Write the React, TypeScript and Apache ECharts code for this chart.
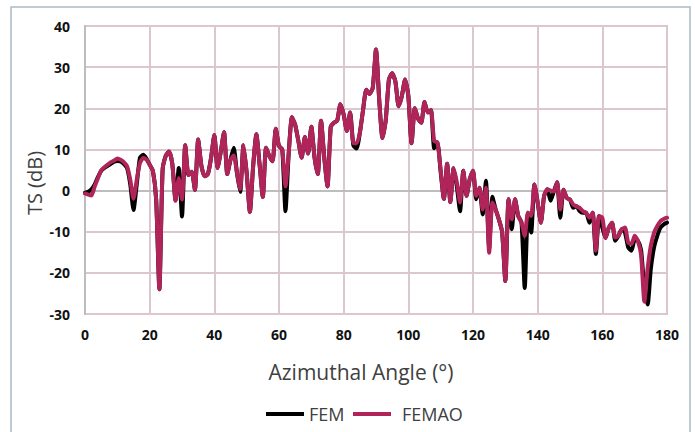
import React, { useEffect, useRef } from "react";
import * as echarts from "echarts";

const angles = [
  0, 1, 2, 3, 4, 5, 6, 7, 8, 9, 10, 11, 12, 13, 14, 15, 16, 17, 18, 19, 20,
  21, 22, 23, 24, 25, 26, 27, 28, 29, 30, 31, 32, 33, 34, 35, 36, 37, 38, 39, 40,
  41, 42, 43, 44, 45, 46, 47, 48, 49, 50, 51, 52, 53, 54, 55, 56, 57, 58, 59, 60,
  61, 62, 63, 64, 65, 66, 67, 68, 69, 70, 71, 72, 73, 74, 75, 76, 77, 78, 79, 80,
  81, 82, 83, 84, 85, 86, 87, 88, 89, 90, 91, 92, 93, 94, 95, 96, 97, 98, 99, 100,
  101, 102, 103, 104, 105, 106, 107, 108, 109, 110, 111, 112, 113, 114, 115, 116, 117, 118, 119, 120,
  121, 122, 123, 124, 125, 126, 127, 128, 129, 130, 131, 132, 133, 134, 135, 136, 137, 138, 139, 140,
  141, 142, 143, 144, 145, 146, 147, 148, 149, 150, 151, 152, 153, 154, 155, 156, 157, 158, 159, 160,
  161, 162, 163, 164, 165, 166, 167, 168, 169, 170, 171, 172, 173, 174, 175, 176, 177, 178, 179, 180,
];

const femao = [
  -0.7, -1.0, -1.2, 1.0, 3.0, 4.9, 5.7, 6.3, 6.9, 7.3, 7.8, 7.5, 6.9, 5.9, 2.6, -2.0, 2.6, 6.7, 7.9, 7.5, 6.3,
  4.8, -2.0, -24.0, 5.0, 8.5, 9.5, 6.5, -2.5, 3.0, -2.2, 11.0, 3.8, 4.6, 0.2, 12.4, 6.0, 3.5, 4.0, 8.0, 13.5,
  5.5, 9.5, 14.2, 4.0, 7.5, 8.5, 4.3, 0.4, 11.0, 4.3, -5.2, 5.9, 13.7, 6.3, -1.5, 10.4, 8.4, 7.1, 15.0, 10.8,
  10.0, 1.0, 9.0, 17.8, 16.0, 12.0, 8.0, 13.0, 9.0, 15.5, 8.0, 4.0, 17.0, 8.0, 1.0, 15.5, 16.5, 17.0, 21.0, 18.5,
  14.5, 19.0, 11.5, 11.5, 14.0, 19.6, 24.5, 23.5, 25.0, 34.3, 22.0, 12.8, 17.0, 27.0, 28.5, 26.5, 20.5, 23.0, 27.0, 23.0,
  11.5, 20.0, 17.5, 16.5, 21.5, 19.0, 19.5, 12.0, 11.7, 5.0, -2.0, 6.5, -2.8, 5.4, 2.0, -2.9, 4.8, -1.3, 2.8, 4.8,
  -1.3, 0.7, -4.6, 0.7, -15.1, -2.9, -4.6, -7.0, -10.0, -22.0, -2.1, -7.0, -2.1, -6.2, -7.8, -11.0, -5.4, -6.2, 1.5, -2.9,
  -7.8, -1.3, 0.3, 0.0, -0.2, 2.0, -4.6, 0.2, -1.8, -2.2, -3.4, -3.8, -4.2, -5.0, -5.4, -6.6, -5.4, -14.6, -6.2, -6.6,
  -11.5, -9.0, -7.8, -11.4, -11.0, -9.4, -9.0, -12.6, -13.0, -11.0, -12.2, -15.8, -27.0, -19.0, -13.4, -10.2, -8.6, -7.4, -6.9, -6.6,
];

const fem = [
  -0.5, -0.3, 0.3, 1.5, 3.3, 4.8, 5.5, 6.0, 6.5, 7.0, 7.2, 7.1, 6.5, 5.5, 1.5, -4.7, 1.5, 8.0, 8.7, 7.8, 6.3,
  4.8, -2.0, -24.0, 5.0, 8.5, 9.5, 6.5, -2.3, 5.5, -6.3, 11.0, 3.8, 4.6, 0.2, 12.4, 6.0, 3.5, 4.0, 8.0, 13.5,
  5.5, 9.5, 14.2, 4.0, 7.5, 10.4, 4.3, -0.3, 11.0, 4.3, -5.2, 5.9, 13.7, 6.3, -1.5, 10.4, 8.4, 7.1, 15.0, 10.8,
  10.0, -5.0, 9.0, 17.8, 16.0, 12.0, 8.0, 13.0, 9.0, 15.5, 8.0, 4.0, 17.0, 8.0, 1.0, 15.5, 16.5, 17.0, 21.0, 18.5,
  14.5, 19.0, 11.0, 10.2, 14.0, 19.6, 24.5, 23.5, 25.0, 34.3, 22.0, 12.8, 17.0, 27.0, 28.5, 26.5, 20.5, 23.0, 27.0, 23.0,
  11.5, 20.0, 17.5, 16.5, 21.5, 19.0, 19.5, 10.3, 11.7, 4.5, -2.0, 6.5, -2.8, 5.4, 1.0, -5.0, 4.8, -1.3, 2.8, 4.8,
  -2.1, 0.7, -5.8, 2.4, -14.0, -1.5, -4.6, -7.0, -10.0, -22.0, -2.1, -9.4, -2.1, -6.2, -7.8, -23.7, -5.4, -10.2, 1.5, -2.9,
  -7.8, -1.3, 0.3, -2.5, -0.2, 2.0, -6.6, 0.2, -1.8, -2.2, -4.2, -3.8, -5.0, -5.4, -5.4, -7.8, -5.4, -15.4, -6.2, -9.0,
  -11.5, -9.0, -7.8, -12.2, -11.0, -9.4, -10.2, -13.8, -14.6, -12.0, -12.2, -14.5, -24.0, -27.7, -19.0, -13.8, -11.0, -9.0, -8.2, -7.8,
];

const yTicks = { min: -30, max: 40, interval: 10 };
const xTicks = { min: 0, max: 180, interval: 20 };

const FONT = '"Open Sans", "Noto Sans", sans-serif';

export default function App() {
  const ref = useRef<HTMLDivElement>(null);

  useEffect(() => {
    document.body.style.margin = "0";
    const chart = echarts.init(ref.current!, null, { renderer: "svg" });
    const pairs = (vals: number[]) => angles.map((a, i) => [a, vals[i]]);
    chart.setOption({
      animation: false,
      backgroundColor: "#ffffff",
      grid: {
        left: 85,
        right: 28,
        top: 26,
        bottom: 118,
        show: true,
        borderColor: "#c4c4c4",
        borderWidth: 2,
        backgroundColor: "transparent",
      },
      xAxis: {
        type: "value",
        min: xTicks.min,
        max: xTicks.max,
        interval: xTicks.interval,
        axisLine: { show: true, lineStyle: { color: "#bdbdbd", width: 2 } },
        axisTick: { show: false },
        axisLabel: {
          color: "#111",
          fontSize: 14,
          fontWeight: "bold",
          fontFamily: FONT,
          margin: 13,
        },
        splitLine: { show: true, lineStyle: { color: "#dcc6cf", width: 2 } },
      },
      yAxis: {
        type: "value",
        min: yTicks.min,
        max: yTicks.max,
        interval: yTicks.interval,
        axisLine: { show: true, lineStyle: { color: "#bdbdbd", width: 2 } },
        axisTick: { show: false },
        axisLabel: {
          color: "#111",
          fontSize: 14,
          fontWeight: "bold",
          fontFamily: FONT,
          margin: 15,
        },
        splitLine: { show: true, lineStyle: { color: "#dcc6cf", width: 2 } },
      },
      legend: [
        {
          data: ["FEM"],
          left: 261,
          top: 400,
          itemWidth: 38,
          itemHeight: 4,
          icon: "rect",
          textStyle: { fontSize: 18, color: "#404040", fontFamily: FONT, padding: [0, 0, 0, 0] },
        },
        {
          data: ["FEMAO"],
          left: 348,
          top: 400,
          itemWidth: 38,
          itemHeight: 4,
          icon: "rect",
          textStyle: { fontSize: 18, color: "#404040", fontFamily: FONT, padding: [0, 0, 0, 6] },
        },
      ],
      graphic: [
        {
          type: "rect",
          silent: true,
          z: -10,
          shape: { x: 11, y: 7, width: 679, height: 440 },
          style: { fill: "none", stroke: "#a9bac8", lineWidth: 1.5 },
        },
        {
          type: "text",
          x: 34,
          y: 183,
          rotation: Math.PI / 2,
          style: {
            text: "TS (dB)",
            font: `20px ${FONT}`,
            fill: "#404040",
            align: "center",
            verticalAlign: "middle",
          },
        },
        {
          type: "text",
          x: 361,
          y: 372,
          style: {
            text: "Azimuthal Angle (°)",
            font: `21px ${FONT}`,
            fill: "#404040",
            align: "center",
            verticalAlign: "middle",
          },
        },
      ],
      series: [
        {
          name: "FEM",
          type: "line",
          data: pairs(fem),
          showSymbol: false,
          smooth: 0.2,
          color: "#000000",
          lineStyle: { width: 4, color: "#000000", join: "round", cap: "round" },
          z: 2,
        },
        {
          name: "FEMAO",
          type: "line",
          data: pairs(femao),
          showSymbol: false,
          smooth: 0.2,
          color: "#b0245a",
          lineStyle: { width: 4, color: "#b0245a", join: "round", cap: "round" },
          z: 3,
        },
      ],
    });
    return () => chart.dispose();
  }, []);

  return <div ref={ref} style={{ width: 695, height: 432 }} />;
}
